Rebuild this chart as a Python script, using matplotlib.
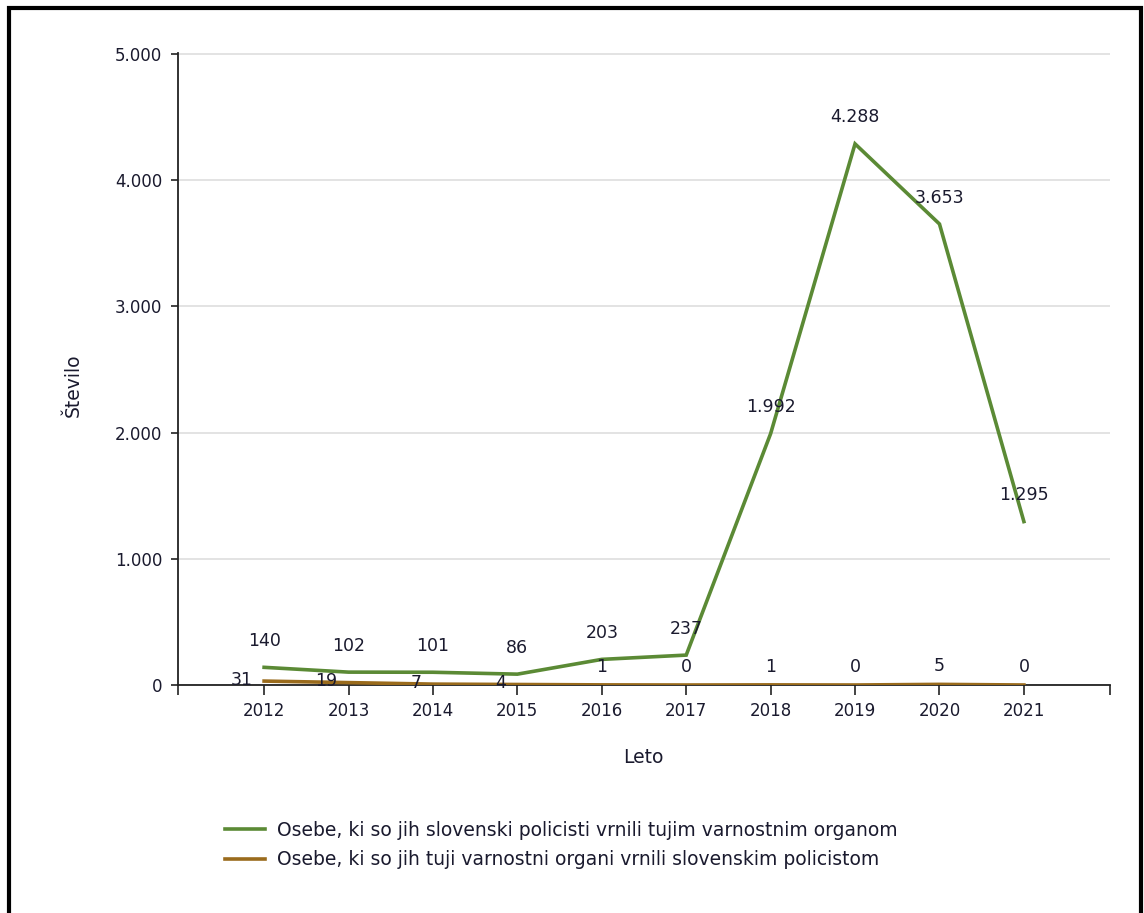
import matplotlib
matplotlib.use("Agg")
import matplotlib.pyplot as plt
from matplotlib.patches import Rectangle
from matplotlib.lines import Line2D

years = ["2012", "2013", "2014", "2015", "2016", "2017", "2018", "2019", "2020", "2021"]
returned_by_slovenian = [140, 102, 101, 86, 203, 237, 1992, 4288, 3653, 1295]
returned_to_slovenian = [31, 19, 7, 4, 1, 0, 1, 0, 5, 0]
series_names = [
    "Osebe, ki so jih slovenski policisti vrnili tujim varnostnim organom",
    "Osebe, ki so jih tuji varnostni organi vrnili slovenskim policistom",
]
y_ticks = [0, 1000, 2000, 3000, 4000, 5000]

GREEN = "#5b8a35"
BROWN = "#9a6b1c"
TXT = "#1a1a2e"
FONT = "DejaVu Sans"
NUM_FS = 12
LBL_FS = 12.5
TITLE_FS = 13.5

W, H = 1144, 913
fig = plt.figure(figsize=(W / 100, H / 100), dpi=100)
plt.rcParams["font.family"] = [FONT]

def fx(px):
    return px / W

def fy(py):
    return 1 - py / H

ax_l, ax_r, ax_t, ax_b = 178, 1110, 53, 685
ax = fig.add_axes([fx(ax_l), fy(ax_b), fx(ax_r) - fx(ax_l), fy(ax_t) - fy(ax_b)])

x = list(range(len(years)))
ax.plot(x, returned_by_slovenian, color=GREEN, lw=2.6, solid_joinstyle="miter", zorder=3)
ax.plot(x, returned_to_slovenian, color=BROWN, lw=2.6, zorder=3)

ax.set_xlim(-1.02, len(years) - 1 + 1.02)
ax.set_ylim(0, 5008)

def fmt(v):
    return f"{v:,}".replace(",", ".")

for i, v in enumerate(returned_by_slovenian):
    ax.annotate(fmt(v), (i, v), xytext=(0, 19), textcoords="offset points",
                ha="center", va="center", fontsize=LBL_FS, color=TXT, zorder=5)
for i, v in enumerate(returned_to_slovenian):
    if returned_by_slovenian[i] - v < 150:
        ax.annotate(fmt(v), (i, v), xytext=(-8, 1), textcoords="offset points",
                    ha="right", va="center", fontsize=LBL_FS, color=TXT, zorder=5)
    else:
        ax.annotate(fmt(v), (i, v), xytext=(0, 13), textcoords="offset points",
                    ha="center", va="center", fontsize=LBL_FS, color=TXT, zorder=5)

ax.set_yticks(y_ticks)
ax.set_yticklabels([fmt(t) for t in y_ticks], fontsize=NUM_FS, color=TXT)
ax.yaxis.grid(True, color="#e0e0e0", lw=1.3)
ax.set_axisbelow(True)

xt = [-1.02] + x + [len(years) - 1 + 1.02]
ax.set_xticks(xt)
ax.set_xticklabels([""] + years + [""], fontsize=NUM_FS, color=TXT)
ax.tick_params(axis="x", direction="out", length=7, width=1.2, color="#222222", pad=5.5)
ax.tick_params(axis="y", direction="out", length=5, width=1.2, color="#222222", pad=6.5)

for s in ["top", "right"]:
    ax.spines[s].set_visible(False)
for s in ["left", "bottom"]:
    ax.spines[s].set_color("#222222")
    ax.spines[s].set_linewidth(1.3)

fig.text(fx(73), fy(385), "Število", rotation=90, ha="center", va="center",
         fontsize=TITLE_FS, color=TXT)
fig.text(fx(643), fy(757), "Leto", ha="center", va="center", fontsize=TITLE_FS, color=TXT)

handles = [Line2D([], [], color=GREEN, lw=2.6), Line2D([], [], color=BROWN, lw=2.6)]
leg = fig.legend(handles, series_names, loc="upper left",
                 bbox_to_anchor=(fx(225), fy(821)), frameon=False, fontsize=TITLE_FS,
                 handlelength=2.15, handletextpad=0.6, labelspacing=0.55,
                 borderaxespad=0, borderpad=0)
for t in leg.get_texts():
    t.set_color(TXT)

fig.patches.append(Rectangle((fx(8.5), fy(930)), fx(1141) - fx(8.5), fy(8.5) - fy(930),
                             transform=fig.transFigure, fill=False,
                             edgecolor="black", lw=3, clip_on=False))

fig.savefig("out.png", dpi=100, facecolor="white")
